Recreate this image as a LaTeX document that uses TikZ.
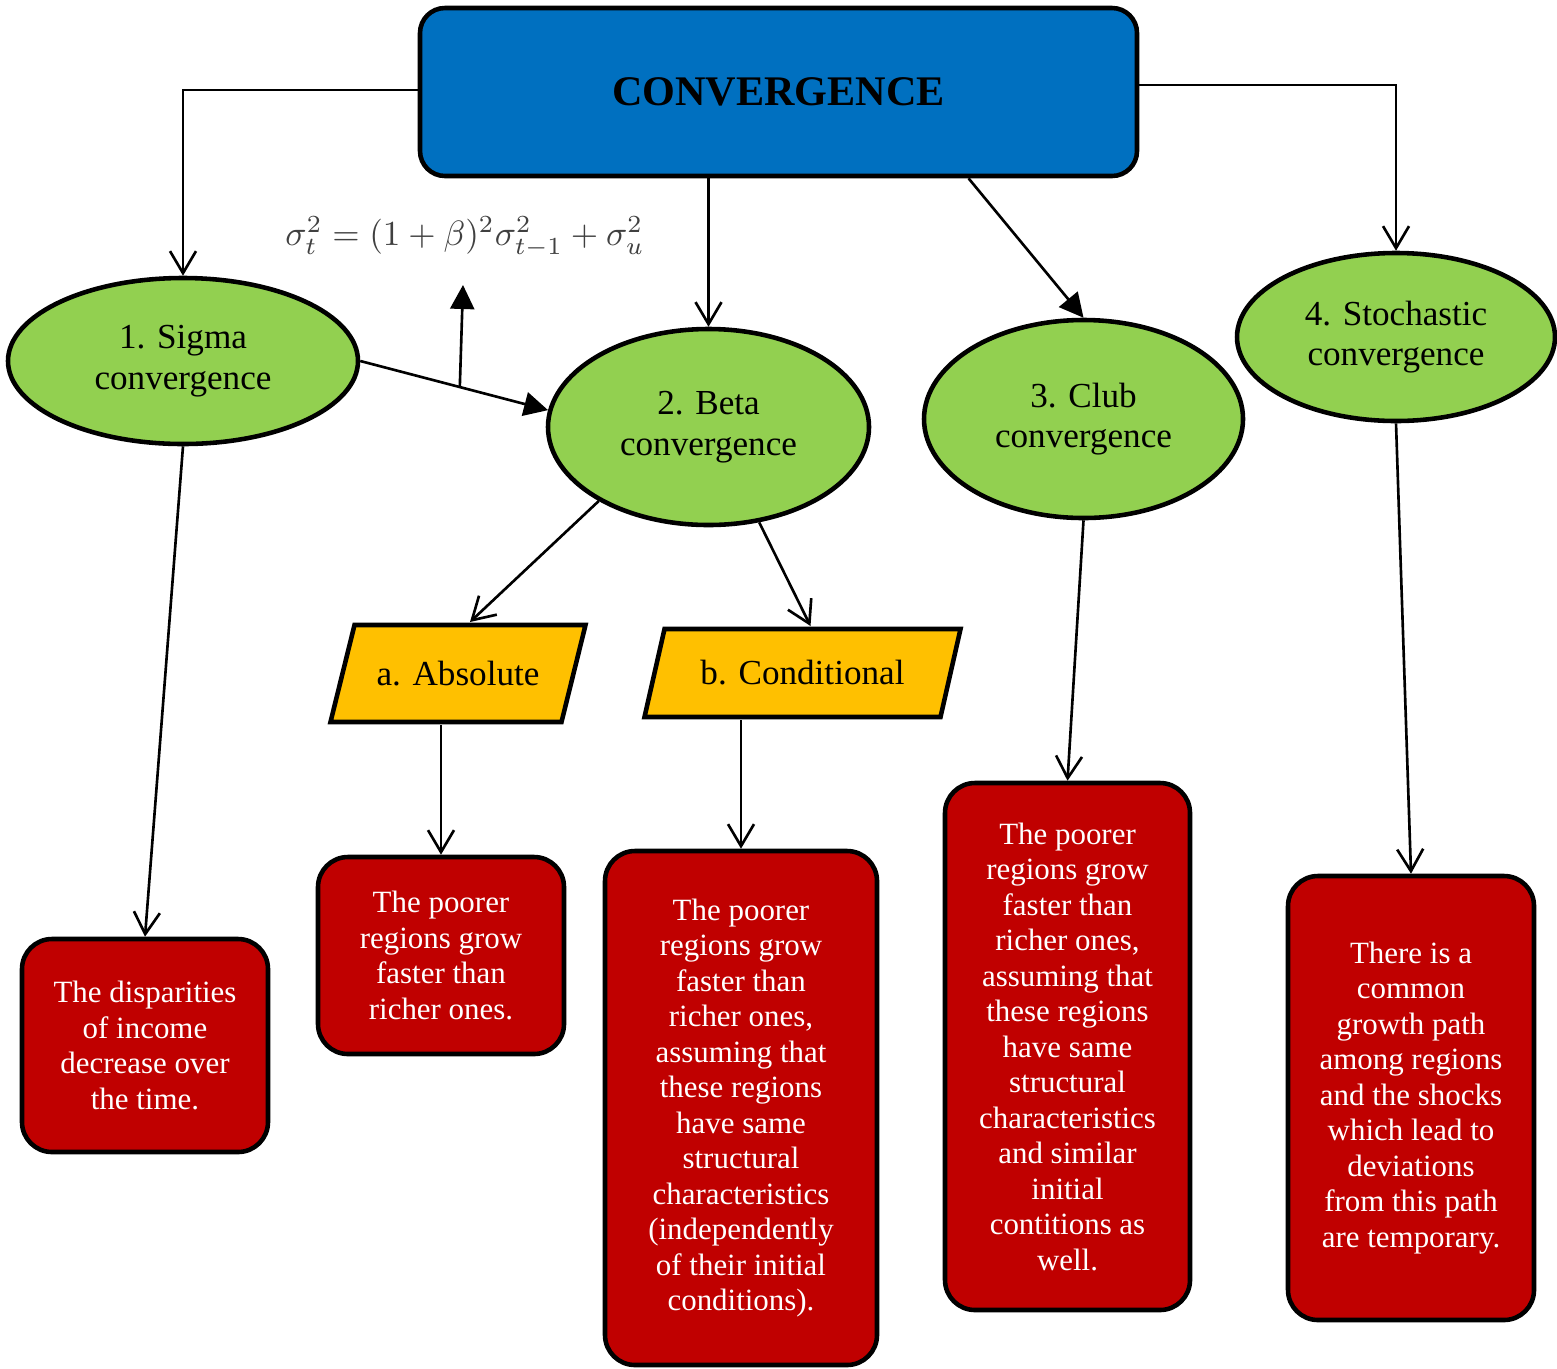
\documentclass[tikz,border=0pt]{standalone}
\usepackage{fontspec}
\setmainfont{Liberation Serif}
\usetikzlibrary{shapes.geometric,arrows.meta,backgrounds}
\definecolor{topblue}{HTML}{0070C0}
\definecolor{ellgreen}{HTML}{92D050}
\definecolor{paryellow}{HTML}{FFC000}
\definecolor{boxred}{HTML}{C00000}
\definecolor{eqgray}{HTML}{404040}
\begin{document}
\begin{tikzpicture}[
    mainbox/.style={draw,line width=1.3pt,fill=topblue,rounded corners=0.25cm,
      minimum width=7.17cm,minimum height=1.68cm,inner sep=0pt,
      font=\fontsize{12}{14}\selectfont\bfseries},
    kind/.style={draw,line width=1.3pt,fill=ellgreen,ellipse,inner sep=0pt,
      align=center,font=\fontsize{10}{11.6}\selectfont},
    subkind/.style={inner sep=0pt,outer sep=0pt,font=\fontsize{10}{11.6}\selectfont},
    slanted/.style={draw,line width=1.3pt,fill=paryellow,line join=miter},
    textbox/.style={draw,line width=1.3pt,fill=boxred,rounded corners=0.3cm,
      text=white,align=center,inner sep=0pt,minimum width=2.46cm,
      font=\fontsize{8.8}{10.1}\selectfont},
    link/.style={line width=0.75pt,-{Straight Barb[length=2.2mm,width=2.6mm]}},
    linkfull/.style={line width=0.75pt,-{Triangle[length=2.4mm,width=2.4mm]}}]
  \useasboundingbox (0,0) rectangle (15.57,-13.68);
  % top
  \node[mainbox] (top) at (7.785,-0.92) {CONVERGENCE};
  % four kinds
  \node[kind,minimum width=3.50cm,minimum height=1.66cm] (sigma) at (1.83,-3.61)
    {1. Sigma\\convergence};
  \node[kind,minimum width=3.21cm,minimum height=1.96cm] (beta) at (7.085,-4.27)
    {2. Beta\\convergence};
  \node[kind,minimum width=3.19cm,minimum height=1.98cm] (club) at (10.835,-4.19)
    {3. Club\\convergence};
  \node[kind,minimum width=3.18cm,minimum height=1.68cm] (stoch) at (13.96,-3.37)
    {4. Stochastic\\convergence};
  % formula
  \node[text=eqgray,font=\fontsize{10}{12}\selectfont] (eq) at (4.65,-2.37)
    {$\sigma_t^2=(1+\beta)^2\sigma_{t-1}^2+\sigma_u^2$};
  \coordinate (equp) at (4.63,-2.85);
  % beta kinds (parallelograms behind the text)
  \node[subkind,minimum width=2.31cm,minimum height=0.97cm] (abs) at (4.58,-6.735)
    {a. Absolute};
  \node[subkind,minimum width=2.96cm,minimum height=0.88cm] (cond) at (8.025,-6.73)
    {b. Conditional};
  \begin{pgfonlayer}{background}
    \draw[slanted] ([xshift=-0.12cm]abs.south west) -- ([xshift=0.12cm]abs.north west)
      -- ([xshift=0.12cm]abs.north east) -- ([xshift=-0.12cm]abs.south east) -- cycle;
    \draw[slanted] ([xshift=-0.10cm]cond.south west) -- ([xshift=0.10cm]cond.north west)
      -- ([xshift=0.10cm]cond.north east) -- ([xshift=-0.10cm]cond.south east) -- cycle;
  \end{pgfonlayer}
  % red boxes
  \node[textbox,minimum height=2.13cm] (sigmatxt) at (1.45,-10.455)
    {The disparities\\of income\\decrease over\\the time.};
  \node[textbox,minimum height=1.97cm] (abstxt) at (4.41,-9.555)
    {The poorer\\regions grow\\faster than\\richer ones.};
  \node[textbox,minimum width=2.72cm,minimum height=5.14cm] (condtxt) at (7.41,-11.08)
    {The poorer\\regions grow\\faster than\\richer ones,\\assuming that\\these regions\\have same\\structural\\characteristics\\(independently\\of their initial\\conditions).};
  \node[textbox,minimum width=2.45cm,minimum height=5.27cm] (clubtxt) at (10.675,-10.465)
    {The poorer\\regions grow\\faster than\\richer ones,\\assuming that\\these regions\\have same\\structural\\characteristics\\and similar\\initial\\contitions as\\well.};
  \node[textbox,minimum height=4.44cm] (stochtxt) at (14.11,-10.98)
    {There is a\\common\\growth path\\among regions\\and the shocks\\which lead to\\deviations\\from this path\\are temporary.};
  % arrows from top
  \draw[link] ([yshift=0.02cm]top.west) -| (sigma.north);
  \draw[link] ([yshift=0.07cm]top.east) -| (stoch.north);
  \draw[link] (top.south -| beta.north) -- (beta.north);
  \draw[linkfull] ([xshift=1.9cm]top.south) -- (club.north);
  % sigma to beta, with branch to formula
  \draw[linkfull] (sigma.east) -- coordinate[pos=0.53] (split) (beta.174);
  \draw[linkfull] (split) -- (equp);
  % beta to its kinds
  \draw[link] (beta.214) -- ([xshift=0.12cm,yshift=0.03cm]abs.north);
  \draw[link] (beta.298) -- ([xshift=0.08cm,yshift=0.03cm]cond.north);
  % down to the red boxes
  \draw[link] (sigma.south) -- (sigmatxt.north);
  \draw[link] ([yshift=-0.03cm]abstxt.north |- abs.south) -- (abstxt.north);
  \draw[link] ([yshift=-0.03cm]condtxt.north |- cond.south) -- (condtxt.north);
  \draw[link] (club.south) -- (clubtxt.north);
  \draw[link] (stoch.south) -- (stochtxt.north);
\end{tikzpicture}
\end{document}
